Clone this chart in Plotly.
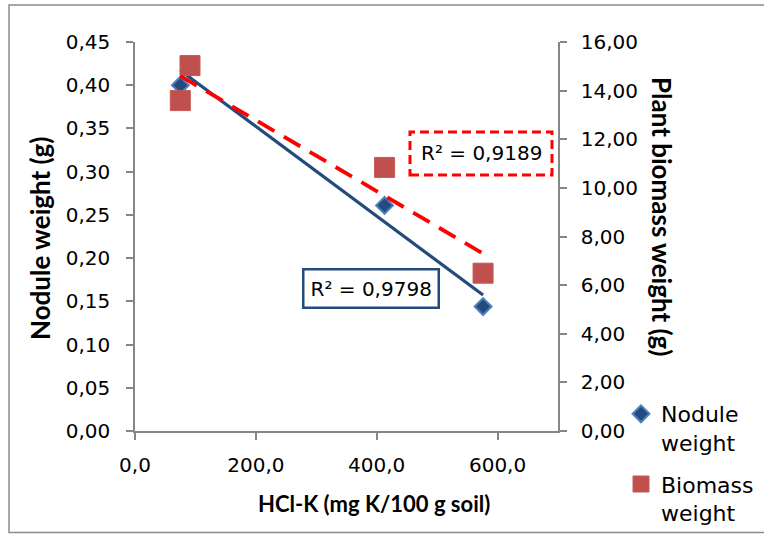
import numpy as np
import plotly.graph_objects as go

# ---------------- data ----------------
hcl_k = [75, 91, 413, 576]                 # HCl-K (mg K/100 g soil)
nodule_weight = [0.400, 0.420, 0.261, 0.144]  # g
biomass_weight = [13.59, 15.03, 10.84, 6.49]  # g

x_ticks = [0, 200, 400, 600]
x_tick_labels = ["0,0", "200,0", "400,0", "600,0"]
y1_ticks = [0.00, 0.05, 0.10, 0.15, 0.20, 0.25, 0.30, 0.35, 0.40, 0.45]
y1_tick_labels = ["0,00", "0,05", "0,10", "0,15", "0,20", "0,25", "0,30", "0,35", "0,40", "0,45"]
y2_ticks = [0, 2, 4, 6, 8, 10, 12, 14, 16]
y2_tick_labels = ["0,00", "2,00", "4,00", "6,00", "8,00", "10,00", "12,00", "14,00", "16,00"]

r2_nodule_text = "R² = 0,9798"
r2_biomass_text = "R² = 0,9189"

# ---------------- layout geometry ----------------
W, H = 764, 534
ML, MR, MT, MB = 135, 206, 42, 103
PW, PH = W - ML - MR, H - MT - MB


def px_x(px):
    return (px - ML) / PW


def px_y(py):
    return (H - MB - py) / PH


FONT = "DejaVu Sans"
TITLE_FONT = "Lato"
AXIS_GREY = "#868686"
NAVY = "#254A7C"
RED = "#FF0000"

# trendlines (linear least squares from the data)
xs = np.array(hcl_k, dtype=float)
xline = np.array([xs.min(), xs.max()])
pn = np.polyfit(xs, nodule_weight, 1)
pb = np.polyfit(xs, biomass_weight, 1)

fig = go.Figure()

fig.add_trace(go.Scatter(
    x=hcl_k, y=nodule_weight, mode="markers", name="Nodule<br>weight",
    legendgroup="nodule",
    marker=dict(symbol="diamond", size=13, color="#234B80",
                line=dict(color="#4F81BD", width=2)),
    yaxis="y", cliponaxis=False,
))
fig.add_trace(go.Scatter(
    x=hcl_k, y=biomass_weight, mode="markers", name="Biomass<br>weight",
    legendgroup="biomass",
    marker=dict(symbol="square", size=20, color="#C0504D",
                line=dict(color="#C65855", width=1)),
    yaxis="y2", cliponaxis=False,
))
fig.add_trace(go.Scatter(
    x=xline, y=np.polyval(pn, xline), mode="lines", showlegend=False,
    line=dict(color=NAVY, width=3.2), yaxis="y", hoverinfo="skip",
))
fig.add_trace(go.Scatter(
    x=xline, y=np.polyval(pb, xline), mode="lines", showlegend=False,
    line=dict(color=RED, width=3.8, dash="19px,11px"), yaxis="y2", hoverinfo="skip",
))

axis_common = dict(
    showline=True, linecolor=AXIS_GREY, linewidth=1.5,
    ticks="outside", ticklen=7, tickcolor=AXIS_GREY, tickwidth=1.5,
    showgrid=False, zeroline=False,
    tickfont=dict(family=FONT, size=20, color="#000000"),
)

fig.update_layout(
    width=W, height=H,
    margin=dict(l=ML, r=MR, t=MT, b=MB, pad=0, autoexpand=False),
    paper_bgcolor="white", plot_bgcolor="white",
    xaxis=dict(range=[0, 700], tickvals=x_ticks, ticktext=x_tick_labels,
               ticklabelstandoff=8, **axis_common),
    yaxis=dict(range=[0, 0.45], tickvals=y1_ticks, ticktext=y1_tick_labels,
               ticklabelstandoff=12, **axis_common),
    yaxis2=dict(range=[0, 16], tickvals=y2_ticks, ticktext=y2_tick_labels,
                overlaying="y", side="right", ticklabelstandoff=10, **axis_common),
    legend=dict(
        xref="container", yref="container",
        x=621 / W, y=1 - 393 / H, xanchor="left", yanchor="top",
        font=dict(family=FONT, size=22, color="#000000"),
        valign="top", traceorder="grouped", tracegroupgap=10, bgcolor="rgba(0,0,0,0)",
        itemwidth=30,
    ),
    showlegend=True,
)

annotations = [
    dict(text="<b>Nodule weight (g)</b>", x=px_x(40), y=px_y(239), xref="paper", yref="paper",
         textangle=-90, showarrow=False, font=dict(family=TITLE_FONT, size=26, color="#000000"),
         xanchor="center", yanchor="middle"),
    dict(text="<b>Plant biomass weight (g)</b>", x=px_x(662), y=px_y(216), xref="paper", yref="paper",
         textangle=90, showarrow=False, font=dict(family=TITLE_FONT, size=26, color="#000000"),
         xanchor="center", yanchor="middle"),
    dict(text="<b>HCl-K (mg K/100 g soil)</b>", x=px_x(374), y=px_y(503), xref="paper", yref="paper",
         showarrow=False, font=dict(family=TITLE_FONT, size=22, color="#000000"),
         xanchor="center", yanchor="middle"),
    dict(text=r2_nodule_text, x=px_x(371), y=px_y(288), xref="paper", yref="paper",
         showarrow=False, font=dict(family=FONT, size=20, color="#000000"),
         bordercolor=NAVY, borderwidth=2.5, borderpad=6, bgcolor="white",
         xanchor="center", yanchor="middle"),
    dict(text=r2_biomass_text, x=px_x(481), y=px_y(153), xref="paper", yref="paper",
         showarrow=False, font=dict(family=FONT, size=20, color="#000000"),
         bgcolor="white", xanchor="center", yanchor="middle"),
]
fig.update_layout(annotations=annotations)

shapes = [
    # dashed red box around biomass R²
    dict(type="rect", xref="paper", yref="paper",
         x0=px_x(410), x1=px_x(552), y0=px_y(175), y1=px_y(132),
         line=dict(color=RED, width=3, dash="9px,5px"), fillcolor="rgba(0,0,0,0)", layer="above"),
    # chart outer border
    dict(type="rect", xref="paper", yref="paper",
         x0=px_x(9), x1=px_x(775), y0=px_y(532.5), y1=px_y(5),
         line=dict(color="#8C8C8C", width=1.5), fillcolor="rgba(0,0,0,0)", layer="below"),
]
fig.update_layout(shapes=shapes)

fig.write_html("out.html")
